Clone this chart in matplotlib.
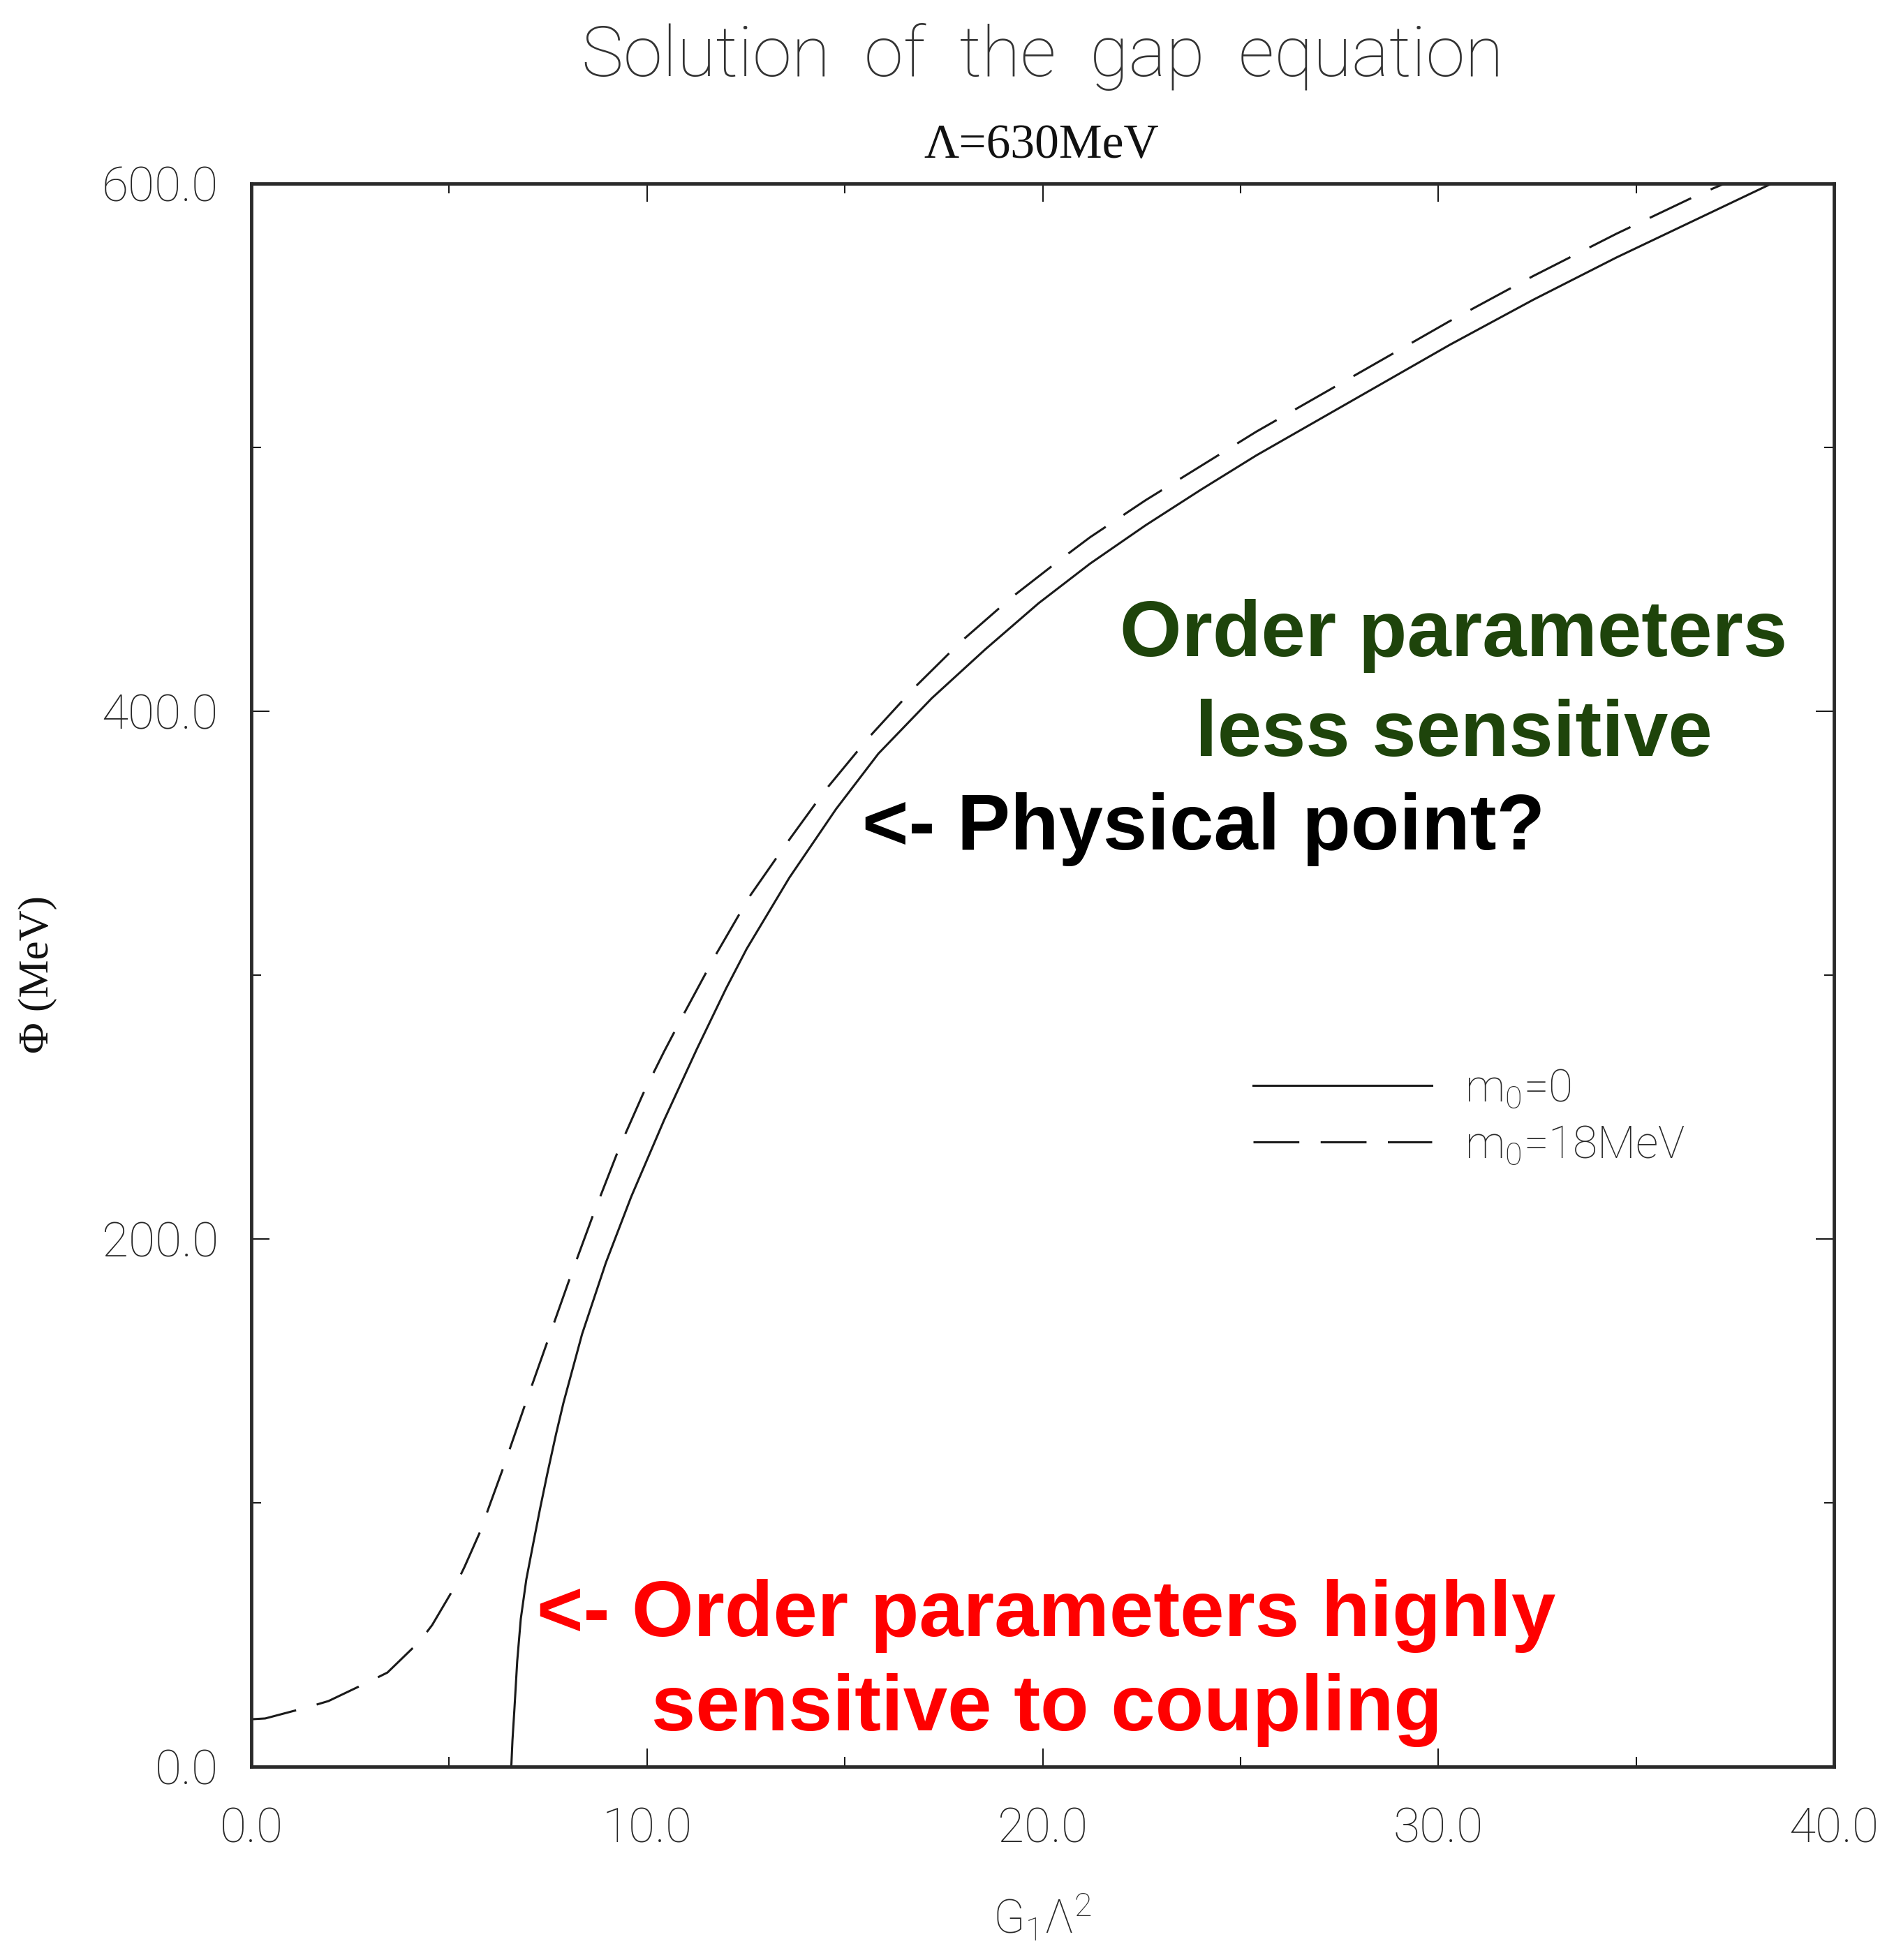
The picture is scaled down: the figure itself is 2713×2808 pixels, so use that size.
import matplotlib.pyplot as plt
from matplotlib.ticker import MultipleLocator, FormatStrFormatter

# --- data ---
# m0 = 0 (solid)
g_m0_zero = [6.57, 6.60, 6.65, 6.72, 6.81, 6.95, 7.13, 7.30, 7.48, 7.70, 7.89, 8.36,
             8.96, 9.60, 10.43, 11.26, 12.00, 12.52, 13.60, 14.78, 15.85, 17.20,
             18.55, 19.90, 21.20, 22.60, 24.00, 25.40, 26.80, 28.20, 30.30, 32.40,
             34.50, 36.60, 38.42]
phi_m0_zero = [0, 10, 22, 40, 56, 71, 85, 98, 111, 126, 138, 164,
               191, 216, 245, 272, 295, 310, 337, 363, 384, 405,
               423.5, 441, 456, 470.5, 484, 497, 509, 521, 539, 556,
               572, 587, 600]

# m0 = 18 MeV (dashed)
g_m0_18 = [0.0, 0.35, 1.41, 1.95, 2.97, 3.44, 4.26, 4.57, 5.16, 5.39, 5.78, 6.02,
           6.36, 6.89, 7.48, 8.07, 8.66, 9.31, 9.90, 10.43, 10.92, 11.71, 12.60,
           13.53, 14.50, 15.60, 16.76, 17.94, 19.20, 20.40, 21.20, 22.60, 24.00,
           25.40, 26.80, 28.20, 30.30, 32.40, 34.50, 36.60, 37.23]
phi_m0_18 = [18.0, 18.3, 22.5, 24.9, 32.2, 35.7, 47.6, 53.7, 68.7, 75.8, 89, 99,
             113, 136, 161, 186, 210, 235, 255, 271, 285, 307, 330,
             350, 370, 390, 409, 426.5, 443, 457, 466, 480, 493,
             506, 518, 530, 548, 565, 581, 596, 600]

series_labels = ["m$_0$=0", "m$_0$=18MeV"]
x_ticks = [0, 10, 20, 30, 40]
y_ticks = [0, 200, 400, 600]

# --- fonts ---
plt.rcParams["font.family"] = ["Roboto", "DejaVu Sans"]
plt.rcParams["font.weight"] = "light"
plt.rcParams["mathtext.fontset"] = "custom"
plt.rcParams["mathtext.rm"] = "Roboto:light"
plt.rcParams["mathtext.it"] = "Roboto:light"
plt.rcParams["mathtext.bf"] = "Roboto:bold"

line_col = "#1a1a1a"
tick_col = "#262626"

fig = plt.figure(figsize=(27.13, 28.08), dpi=100)
ax = fig.add_axes([0.1327, 0.0986, 0.8356, 0.8077])

lw = 2.2
ax.plot(g_m0_zero, phi_m0_zero, color=line_col, lw=lw, label=series_labels[0])
ax.plot(g_m0_18, phi_m0_18, color=line_col, lw=lw, dashes=(21.5, 10),
        label=series_labels[1])

ax.set_xlim(0, 40)
ax.set_ylim(0, 600)
ax.set_xticks(x_ticks)
ax.set_yticks(y_ticks)
ax.xaxis.set_minor_locator(MultipleLocator(5))
ax.yaxis.set_minor_locator(MultipleLocator(100))
ax.xaxis.set_major_formatter(FormatStrFormatter("%.1f"))
ax.yaxis.set_major_formatter(FormatStrFormatter("%.1f"))

ax.tick_params(which="both", direction="in", top=True, right=True,
               color=line_col, width=1.5)
ax.tick_params(which="major", length=19)
ax.tick_params(which="minor", length=10)
ax.tick_params(axis="x", which="major", labelsize=50, labelcolor=tick_col, pad=41)
ax.tick_params(axis="y", which="major", labelsize=50, labelcolor=tick_col, pad=34)

for sp in ax.spines.values():
    sp.set_linewidth(3.5)
    sp.set_color("#2a2a2a")

# titles and axis labels
fig.text(0.5503, 0.9708, "Solution  of  the  gap  equation", ha="center",
         va="center", fontsize=73, color="#333333", fontweight="light")
fig.text(0.550, 0.9255, "\u039b=630MeV", ha="center", va="center", fontsize=50,
         family="Liberation Serif", color="#111111")
fig.text(0.5503, 0.0214, "G$_1$\u039b$^2$", ha="center", va="center",
         fontsize=48, color="#2a2a2a")
fig.text(0.0199, 0.5028, "\u03a6 (MeV)", ha="center", va="center", rotation=90,
         fontsize=44, family=["Liberation Serif", "DejaVu Serif"], color="#111111")

# legend
ax.legend(loc="center left", bbox_to_anchor=(0.633, 0.4105), frameon=False,
          fontsize=46, handlelength=4.0, handletextpad=0.75, labelspacing=0.3,
          borderpad=0, borderaxespad=0, labelcolor="#2a2a2a")

# annotations (va="baseline" anchors the last line)
bold = dict(family=["Liberation Sans", "DejaVu Sans"], fontweight="bold", fontsize=82)
ax.text(0.7596, 0.6384, "Order parameters\nless sensitive", transform=ax.transAxes,
        ha="center", va="baseline", multialignment="center", color="#1e440b",
        linespacing=1.45, **bold)
ax.text(0.386, 0.5794, "<- Physical point?", transform=ax.transAxes,
        ha="left", va="baseline", color="black", **bold)
ax.text(0.5024, 0.0229, "<- Order parameters highly\nsensitive to coupling",
        transform=ax.transAxes, ha="center", va="baseline", multialignment="center",
        color="#ff0000", linespacing=1.36, **bold)

fig.savefig("out.png", dpi=100, facecolor="white")
